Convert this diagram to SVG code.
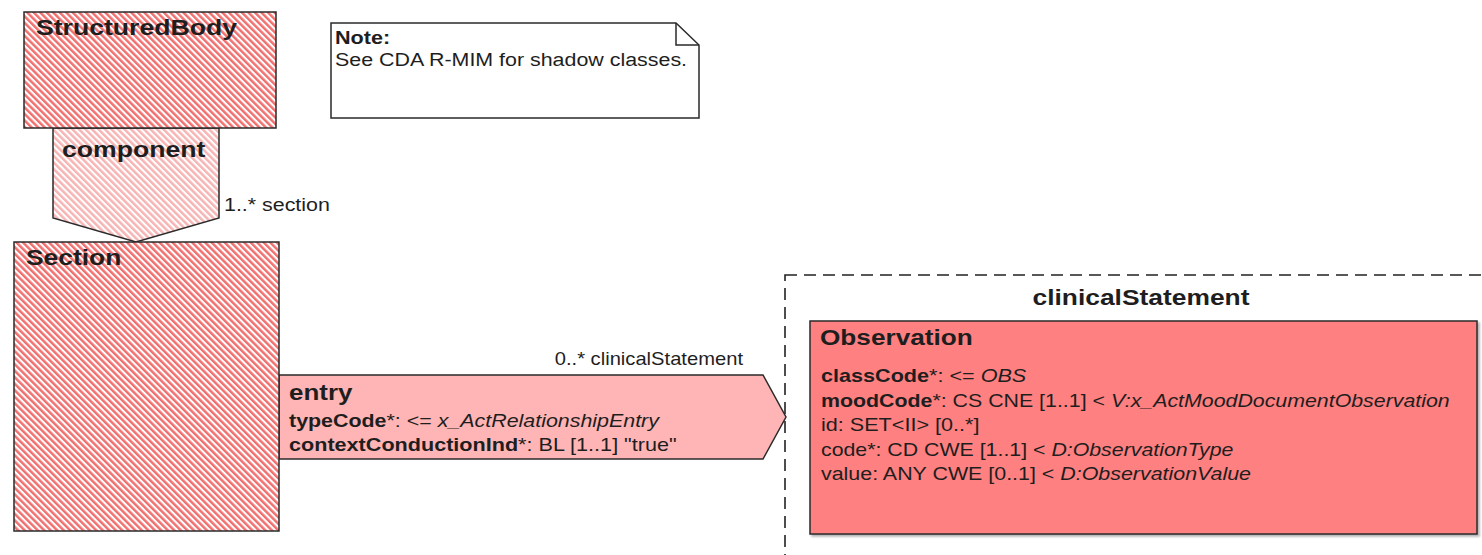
<svg xmlns="http://www.w3.org/2000/svg" width="1482" height="555" viewBox="0 0 1482 555">
<defs>
<pattern id="hatchDark" width="4.6" height="4.6" patternUnits="userSpaceOnUse" patternTransform="rotate(-45)">
<rect width="4.6" height="4.6" fill="#ffffff"/>
<rect width="2.5" height="4.6" fill="#f07070"/>
</pattern>
<pattern id="hatchLight" width="4.6" height="4.6" patternUnits="userSpaceOnUse" patternTransform="rotate(-45)">
<rect width="4.6" height="4.6" fill="#ffffff"/>
<rect width="2.5" height="4.6" fill="#f6b4b4"/>
</pattern>
<filter id="shadow" x="-5%" y="-5%" width="110%" height="110%">
<feDropShadow dx="2" dy="2" stdDeviation="1" flood-color="#000" flood-opacity="0.3"/>
</filter>
</defs>
<style>
text{font-family:"Liberation Sans",Arial,sans-serif;fill:#1e1e1e}
.h{font-size:22px;font-weight:bold}
.a{font-size:18px}
.b{font-weight:bold}
.i{font-style:italic}
.box{stroke:#2a2a2a;stroke-width:1.5}
</style>
<rect width="1482" height="555" fill="#ffffff"/>

<g id="connectors">
<g id="assoc-component">
<polygon class="box" points="53,128 219,128 219,218 136,242 53,218" fill="url(#hatchLight)"/>
<text class="h" transform="translate(62,157) scale(1.21,1)">component</text>
<text class="a" transform="translate(224,211) scale(1.19,1)">1..* section</text>
</g>
<g id="assoc-entry">
<polygon class="box" points="279,375 763,375 786,417 763,459 279,459" fill="#ffb5b5"/>
<text class="a" text-anchor="end" transform="translate(743,365) scale(1.12,1)">0..* clinicalStatement</text>
<text class="h" transform="translate(289,400) scale(1.18,1)">entry</text>
<text class="a" transform="translate(289,427) scale(1.19,1)"><tspan class="b">typeCode</tspan>*: &lt;= <tspan class="i">x_ActRelationshipEntry</tspan></text>
<text class="a" transform="translate(289,451) scale(1.2,1)"><tspan class="b">contextConductionInd</tspan>*: BL [1..1] "true"</text>
</g>
</g>

<g id="StructuredBody">
<rect class="box" x="24" y="12" width="252" height="116" fill="url(#hatchDark)"/>
<text class="h" transform="translate(36,35) scale(1.21,1)">StructuredBody</text>
</g>

<g id="Section">
<rect class="box" x="14" y="242" width="265" height="289" fill="url(#hatchDark)"/>
<text class="h" transform="translate(26,265) scale(1.2,1)">Section</text>
</g>

<g id="Note">
<polygon points="331,23 676,23 699,45 699,118 331,118" fill="#ffffff" stroke="#2a2a2a" stroke-width="1.5"/>
<polyline points="676,23 676,45 699,45" fill="none" stroke="#2a2a2a" stroke-width="1.5"/>
<text class="a b" transform="translate(335,44) scale(1.2,1)">Note:</text>
<text class="a" transform="translate(335,66) scale(1.19,1)">See CDA R-MIM for shadow classes.</text>
</g>

<g id="clinicalStatement">
<rect x="785" y="275" width="800" height="400" fill="none" stroke="#222" stroke-width="1.6" stroke-dasharray="12,7"/>
<text class="h" text-anchor="middle" transform="translate(1141,305) scale(1.2,1)">clinicalStatement</text>
</g>

<g id="Observation">
<rect class="box" x="810" y="321" width="667" height="213" fill="#ff8080" filter="url(#shadow)"/>
<text class="h" transform="translate(820,345) scale(1.19,1)">Observation</text>
<text class="a" transform="translate(821,382) scale(1.2,1)"><tspan class="b">classCode</tspan>*: &lt;= <tspan class="i">OBS</tspan></text>
<text class="a" transform="translate(821,406.5) scale(1.186,1)"><tspan class="b">moodCode</tspan>*: CS CNE [1..1] &lt; <tspan class="i">V:x_ActMoodDocumentObservation</tspan></text>
<text class="a" transform="translate(821,431) scale(1.2,1)">id: SET&lt;II&gt; [0..*]</text>
<text class="a" transform="translate(821,455.5) scale(1.185,1)">code*: CD CWE [1..1] &lt; <tspan class="i">D:ObservationType</tspan></text>
<text class="a" transform="translate(821,480) scale(1.19,1)">value: ANY CWE [0..1] &lt; <tspan class="i">D:ObservationValue</tspan></text>
</g>
</svg>
